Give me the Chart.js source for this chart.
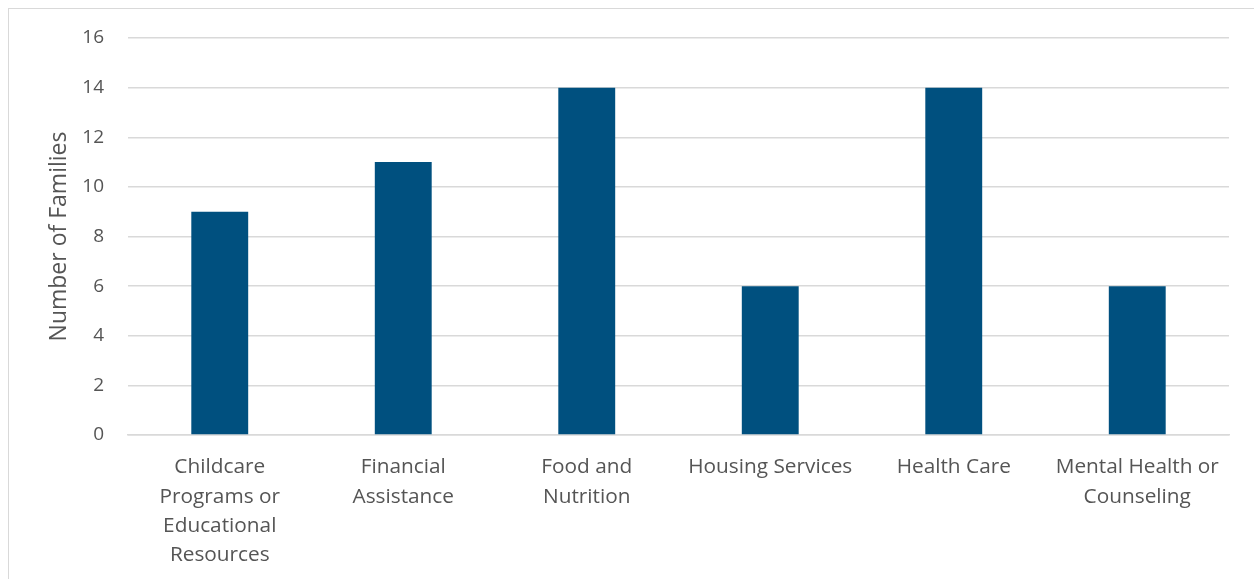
<!doctype html>
<html>
<head>
<title>Number of Families</title>
<script src="https://cdn.jsdelivr.net/npm/chart.js@4/dist/chart.umd.min.js"></script>
<style>
  body { margin: 0; background: #fff; }
  #box {
    position: absolute; left: 8px; top: 8px;
    width: 1250px; height: 575px;
    border: 1px solid #d9d9d9;
  }
</style>
</head>
<body>
<div id="box"><canvas id="canvas"></canvas></div>
<script>
var categories = [
  ['Childcare', 'Programs or', 'Educational', 'Resources'],
  ['Financial', 'Assistance'],
  ['Food and', 'Nutrition'],
  'Housing Services',
  'Health Care',
  ['Mental Health or', 'Counseling']
];
var families = [9, 11, 14, 6, 14, 6];
var yTicks = [0, 2, 4, 6, 8, 10, 12, 14, 16];

var textColor = '#555555';
var gridColor = '#d9d9d9';
var fontName = '"Open Sans", "Noto Sans", sans-serif';

var canvas = document.getElementById('canvas');
canvas.style.width = '1250px';
canvas.style.height = '575px';

new Chart(canvas, {
  type: 'bar',
  data: {
    labels: categories,
    datasets: [{
      label: 'Number of Families',
      data: families,
      backgroundColor: '#00507f',
      categoryPercentage: 1,
      barPercentage: 0.31
    }]
  },
  options: {
    responsive: false,
    animation: false,
    layout: { padding: { top: 29, right: 30, left: 0, bottom: 0 } },
    plugins: { legend: { display: false }, tooltip: { enabled: false } },
    scales: {
      x: {
        grid: { display: false, drawTicks: false },
        border: { color: gridColor, width: 1.5 },
        ticks: {
          color: textColor, padding: 18, maxRotation: 0, autoSkip: false,
          font: { family: fontName, size: 20.8, lineHeight: 1.4 }
        },
        afterFit: function (s) { s.height = 149; }
      },
      y: {
        min: 0, max: 16,
        afterBuildTicks: function (s) { s.ticks = yTicks.map(function (v) { return { value: v }; }); },
        grid: { color: gridColor, lineWidth: 1.5, drawTicks: false },
        border: { display: false },
        ticks: {
          color: textColor, padding: 24,
          font: { family: fontName, size: 19 }
        },
        title: {
          display: true, text: 'Number of Families', color: textColor,
          font: { family: fontName, size: 23 }, padding: { top: 37, bottom: 0 }
        },
        afterFit: function (s) {
          s.width = 119;
          // tick padding would otherwise push the plot down
          s.paddingTop = 0;
          s.paddingBottom = 0;
        }
      }
    }
  }
});
</script>
</body>
</html>
